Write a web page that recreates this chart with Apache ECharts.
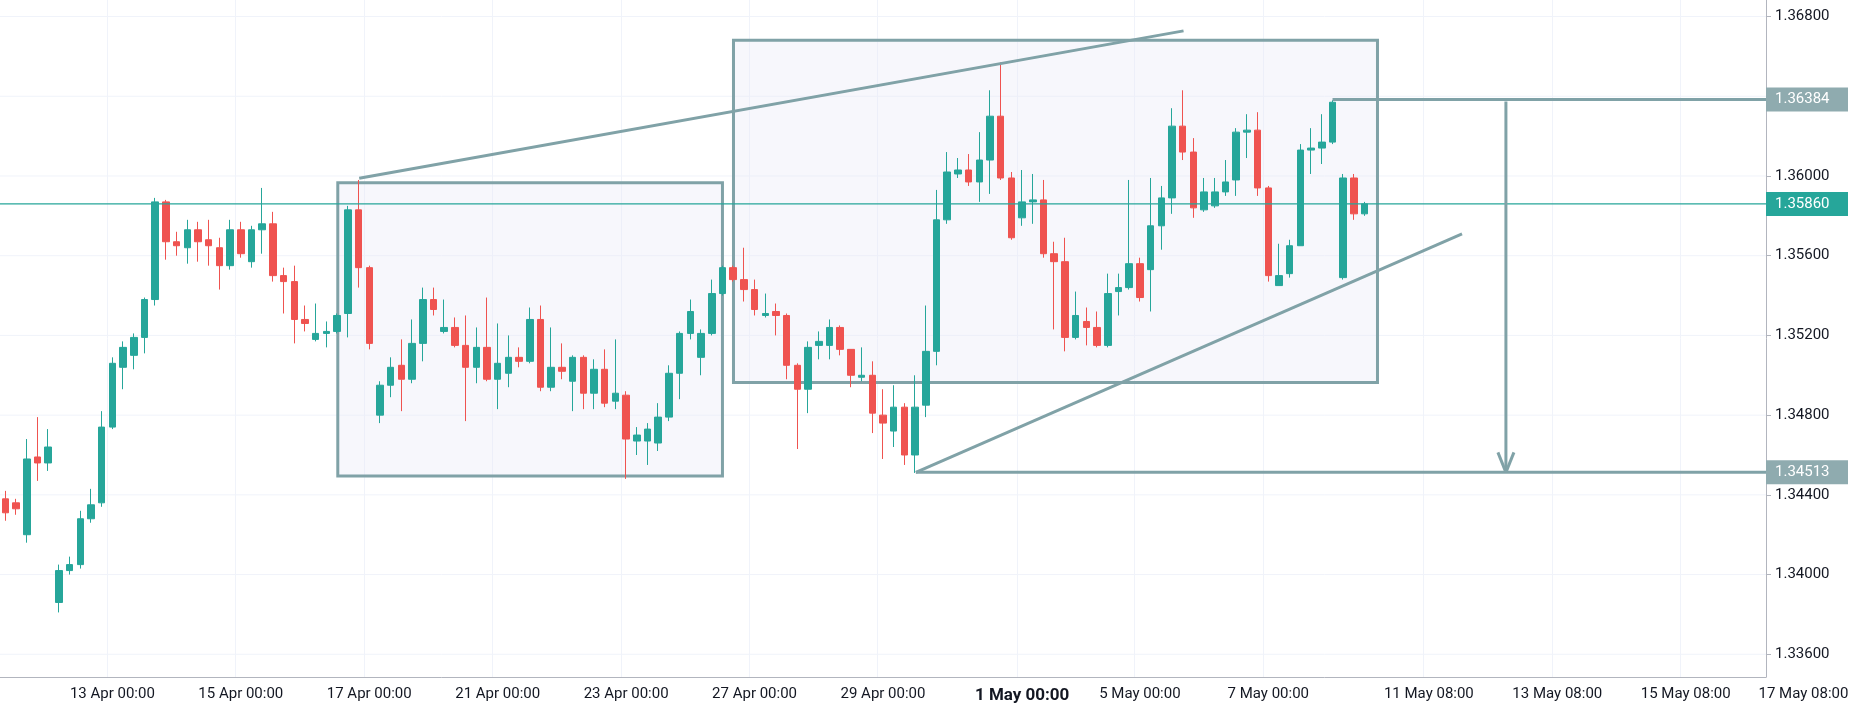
<!DOCTYPE html>
<html><head><meta charset="utf-8">
<script src="https://cdn.jsdelivr.net/npm/echarts@6/dist/echarts.min.js"></script>
<style>html,body{margin:0;padding:0;background:#fff}#c{width:1862px;height:710px}</style>
</head><body><div id="c"></div>
<script>
const opens = [1.3438,1.3436,1.3420,1.3459,1.3456,1.3386,1.3402,1.3405,1.3428,1.3436,1.3474,1.3504,1.3510,1.3519,1.3538,1.3587,1.3567,1.3564,1.3573,1.3568,1.3564,1.3555,1.3573,1.3557,1.3573,1.3576,1.3550,1.3547,1.3528,1.3518,1.3521,1.3522,1.3531,1.3583,1.3554,1.3480,1.3495,1.3505,1.3498,1.3516,1.3538,1.3522,1.3524,1.3515,1.3504,1.3514,1.3498,1.3501,1.3509,1.3507,1.3528,1.3494,1.3504,1.3497,1.3509,1.3491,1.3503,1.3487,1.3490,1.3467,1.3467,1.3466,1.3479,1.3501,1.3521,1.3509,1.3521,1.3541,1.3554,1.3548,1.3543,1.3530,1.3532,1.3530,1.3505,1.3493,1.3515,1.3515,1.3524,1.3513,1.3499,1.3500,1.3480,1.3472,1.3484,1.3460,1.3485,1.3512,1.3578,1.3601,1.3603,1.3597,1.3608,1.3630,1.3599,1.3579,1.3587,1.3588,1.3561,1.3557,1.3519,1.3527,1.3524,1.3515,1.3542,1.3544,1.3556,1.3553,1.3575,1.3589,1.3625,1.3612,1.3583,1.3585,1.3592,1.3598,1.3622,1.3623,1.3594,1.3545,1.3551,1.3565,1.3613,1.3614,1.3617,1.3549,1.3599,1.3581];
const closes = [1.3431,1.3433,1.3458,1.3456,1.3464,1.3402,1.3405,1.3428,1.3435,1.3474,1.3506,1.3514,1.3519,1.3538,1.3587,1.3567,1.3565,1.3573,1.3567,1.3565,1.3555,1.3573,1.3561,1.3573,1.3576,1.3550,1.3547,1.3528,1.3526,1.3521,1.3522,1.3530,1.3583,1.3554,1.3516,1.3495,1.3504,1.3498,1.3516,1.3538,1.3533,1.3524,1.3515,1.3504,1.3514,1.3498,1.3506,1.3509,1.3507,1.3528,1.3494,1.3504,1.3502,1.3509,1.3491,1.3503,1.3486,1.3491,1.3468,1.3470,1.3473,1.3479,1.3501,1.3521,1.3532,1.3521,1.3541,1.3554,1.3548,1.3543,1.3533,1.3531,1.3530,1.3505,1.3493,1.3514,1.3517,1.3524,1.3513,1.3500,1.3500,1.3481,1.3476,1.3484,1.3460,1.3484,1.3512,1.3578,1.3602,1.3603,1.3597,1.3608,1.3630,1.3599,1.3569,1.3587,1.3588,1.3561,1.3557,1.3519,1.3530,1.3524,1.3515,1.3541,1.3544,1.3556,1.3539,1.3575,1.3589,1.3625,1.3612,1.3584,1.3592,1.3592,1.3597,1.3622,1.3623,1.3594,1.3550,1.3550,1.3565,1.3613,1.3614,1.3617,1.3637,1.3599,1.3581,1.3586];
const lows = [1.3427,1.3430,1.3416,1.3447,1.3452,1.3381,1.3400,1.3403,1.3426,1.3434,1.3473,1.3493,1.3503,1.3511,1.3535,1.3558,1.3560,1.3556,1.3557,1.3555,1.3543,1.3553,1.3559,1.3554,1.3561,1.3547,1.3531,1.3516,1.3522,1.3517,1.3514,1.3521,1.3519,1.3544,1.3513,1.3476,1.3489,1.3482,1.3496,1.3507,1.3530,1.3521,1.3514,1.3477,1.3496,1.3497,1.3483,1.3494,1.3504,1.3506,1.3492,1.3492,1.3498,1.3482,1.3483,1.3483,1.3484,1.3483,1.3448,1.3460,1.3455,1.3462,1.3477,1.3488,1.3518,1.3500,1.3520,1.3540,1.3547,1.3537,1.3530,1.3529,1.3520,1.3498,1.3463,1.3481,1.3508,1.3508,1.3510,1.3494,1.3497,1.3471,1.3458,1.3464,1.3455,1.3451,1.3479,1.3505,1.3576,1.3599,1.3595,1.3587,1.3591,1.3598,1.3568,1.3575,1.3576,1.3559,1.3523,1.3512,1.3518,1.3515,1.3514,1.3514,1.3530,1.3543,1.3537,1.3532,1.3563,1.3581,1.3608,1.3579,1.3582,1.3584,1.3590,1.3590,1.3609,1.3590,1.3547,1.3545,1.3549,1.3565,1.3601,1.3606,1.3616,1.3548,1.3578,1.3580];
const highs = [1.3442,1.3438,1.3468,1.3479,1.3473,1.3405,1.3409,1.3432,1.3443,1.3482,1.3509,1.3517,1.3521,1.3539,1.3589,1.3588,1.3572,1.3578,1.3577,1.3578,1.3569,1.3578,1.3577,1.3575,1.3594,1.3582,1.3554,1.3555,1.3535,1.3536,1.3527,1.3531,1.3585,1.3598,1.3555,1.3497,1.3509,1.3518,1.3528,1.3544,1.3544,1.3538,1.3529,1.3530,1.3524,1.3539,1.3526,1.3520,1.3514,1.3534,1.3535,1.3524,1.3516,1.3510,1.3510,1.3508,1.3513,1.3518,1.3492,1.3474,1.3476,1.3486,1.3505,1.3522,1.3538,1.3523,1.3548,1.3555,1.3555,1.3564,1.3548,1.3541,1.3536,1.3531,1.3506,1.3517,1.3522,1.3528,1.3525,1.3513,1.3514,1.3507,1.3493,1.3495,1.3486,1.3500,1.3535,1.3593,1.3612,1.3609,1.3611,1.3622,1.3643,1.3657,1.3602,1.3603,1.3601,1.3598,1.3567,1.3569,1.3542,1.3534,1.3532,1.3551,1.3551,1.3598,1.3559,1.3599,1.3595,1.3634,1.3643,1.3619,1.3599,1.3599,1.3608,1.3624,1.3631,1.3632,1.3595,1.3566,1.3568,1.3616,1.3624,1.3631,1.3638,1.3601,1.3601,1.3587];
const slotCount = 165;
const tickIdx  = [10,22,34,46,58,70,82,95,106,118,133,145,157];
const tickText = ['13 Apr 00:00','15 Apr 00:00','17 Apr 00:00','21 Apr 00:00','23 Apr 00:00','27 Apr 00:00','29 Apr 00:00','1 May 00:00','5 May 00:00','7 May 00:00','11 May 08:00','13 May 08:00','15 May 08:00'];
const boldTick = '1 May 00:00';
const extraTick = '17 May 08:00';
const yTicks = [1.336,1.340,1.344,1.348,1.352,1.356,1.360,1.364,1.368];
const lastPrice = 1.35860, topLevel = 1.36384, targetLevel = 1.34513;
// annotations: [index, price]
const box1 = [[31.06,1.35966],[67.0,1.34494]];
const box2 = [[68.03,1.36681],[128.2,1.34964]];
const upperLine = [[33.06,1.35989],[110.08,1.36728]];
const lowerLine = [[85.07,1.34513],[136.1,1.35709]];
const arrowIdx = 140.2;

const cats = []; for (let i=0;i<slotCount;i++) cats.push('c'+i);
const labelMap = {}; tickIdx.forEach((k,j)=>labelMap['c'+k]=tickText[j]);
const ohlc = opens.map((o,i)=>[o,closes[i],lows[i],highs[i]]);
const UP='#26a69a', DN='#ef5350', ANN='#80a2a7';
const chart = echarts.init(document.getElementById('c'));
const FONT='Roboto';
chart.setOption({
  animation:false,
  grid:{left:-4,right:96,top:0,bottom:33},
  xAxis:{type:'category',data:cats,boundaryGap:true,
    axisLine:{lineStyle:{color:'#b2b5be'}},axisTick:{show:false},
    axisLabel:{interval:(i,v)=>!!labelMap[v],
      formatter:v=>{const t=labelMap[v]||''; return t===boldTick?'{b|'+t+'}':t;},
      color:'#131722',fontSize:15,fontFamily:FONT,margin:10,
      rich:{b:{fontWeight:'bold',fontSize:17,fontFamily:FONT,color:'#131722'}}},
    splitLine:{show:true,interval:(i,v)=>!!labelMap[v],lineStyle:{color:'#f0f3fa'}}},
  yAxis:{type:'value',position:'right',min:1.33486,max:1.36883,scale:true,
    axisLine:{show:true,lineStyle:{color:'#b2b5be'}},
    axisTick:{show:true,customValues:yTicks,length:5,lineStyle:{color:'#b2b5be'}},
    axisLabel:{customValues:yTicks,formatter:v=>v.toFixed(5),color:'#131722',fontSize:15,fontFamily:FONT,margin:9},
    splitLine:{show:false}},
  series:[{type:'candlestick',data:ohlc,barWidth:7,
    itemStyle:{color:UP,color0:DN,borderColor:UP,borderColor0:DN,borderWidth:1},z:5}]
});
function P(i,p){
  const a=chart.convertToPixel({xAxisIndex:0},0), b=chart.convertToPixel({xAxisIndex:0},1);
  return [a+(b-a)*i, chart.convertToPixel({yAxisIndex:0},p)];
}
const g=[];
const W=1862-96;
yTicks.forEach(t=>{const y=P(0,t)[1];g.push({type:'line',z:0,shape:{x1:0,y1:y,x2:W,y2:y},style:{stroke:'#f0f3fa',lineWidth:1}});});
function rect(bx){const a=P(bx[0][0],bx[0][1]),b=P(bx[1][0],bx[1][1]);
  g.push({type:'rect',z:1,shape:{x:a[0],y:a[1],width:b[0]-a[0],height:b[1]-a[1]},style:{fill:'rgba(232,232,246,0.35)',stroke:ANN,lineWidth:3}});}
rect(box1);rect(box2);
function line(a,b,z,w,c){g.push({type:'line',z:z||10,shape:{x1:a[0],y1:a[1],x2:b[0],y2:b[1]},style:{stroke:c||ANN,lineWidth:w||3}});}
line(P(...upperLine[0]),P(...upperLine[1]));
line(P(...lowerLine[0]),P(...lowerLine[1]));
line(P(85.07,targetLevel),[W,P(0,targetLevel)[1]]);
line(P(124.0,topLevel),[W,P(0,topLevel)[1]]);
const ta=P(arrowIdx,topLevel-0.0001), tb=P(arrowIdx,targetLevel);
line(ta,tb);
line([tb[0]-8,tb[1]-20],tb);line([tb[0]+8,tb[1]-20],tb);
line([0,P(0,lastPrice)[1]],[W,P(0,lastPrice)[1]],9,1.3,UP);
function tag(v,bg){const y=P(0,v)[1];
  g.push({type:'rect',z:20,shape:{x:W,y:y-12,width:82,height:24},style:{fill:bg}});
  g.push({type:'text',z:21,x:W+9,y:y,style:{text:v.toFixed(5),fill:'#fff',font:'15px '+FONT,verticalAlign:'middle'}});}
tag(topLevel,'#8fabaf');tag(lastPrice,UP);tag(targetLevel,'#8fabaf');
const ex=P(168,0)[0];
g.push({type:'text',z:21,x:ex,y:710-33+10,style:{text:extraTick,fill:'#131722',font:'15px '+FONT,align:'center',verticalAlign:'top'}});
chart.setOption({graphic:g});
</script></body></html>
